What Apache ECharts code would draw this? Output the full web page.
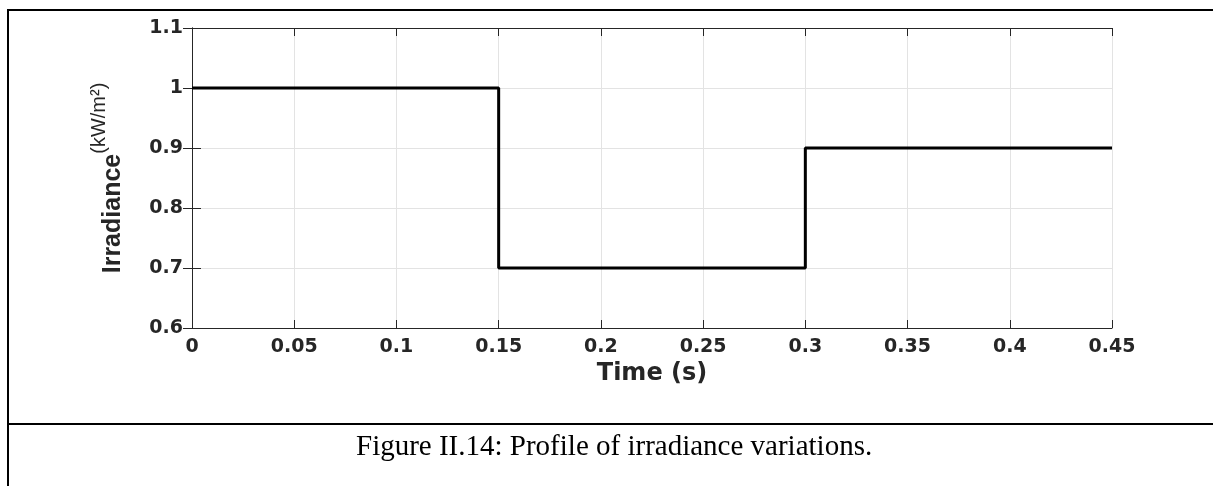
<!DOCTYPE html>
<html>
<head>
<meta charset="utf-8">
<script src="https://cdn.jsdelivr.net/npm/echarts@6/dist/echarts.min.js"></script>
<style>
  html, body { margin: 0; padding: 0; background: #fff; }
  #wrap { position: relative; width: 1213px; height: 486px; overflow: hidden; }
  #chart { position: absolute; left: 0; top: 0; width: 1213px; height: 486px; }
  /* table cell borders round the figure */
  .rule { position: absolute; background: #000; }
</style>
</head>
<body>
<div id="wrap">
  <div id="chart"></div>
  <div class="rule" style="left:7px; top:9px; width:1206px; height:2px;"></div>
  <div class="rule" style="left:7px; top:9px; width:2px; height:477px;"></div>
  <div class="rule" style="left:7px; top:423px; width:1206px; height:2px;"></div>
</div>
<script>
// step profile: value holds from each time until the next one
const timeS = [0, 0.15, 0.3, 0.45];
const irradiance = [1, 0.7, 0.9, 0.9];

const xTicks = { min: 0, max: 0.45, interval: 0.05 };
const yTicks = { min: 0.6, max: 1.1, interval: 0.1 };

const caption = "Figure II.14: Profile of irradiance variations.";

const TEXT = "#262626";
const GRID = "#e3e3e3";
const LABEL_FONT = "DejaVu Sans";

const chart = echarts.init(document.getElementById("chart"));

const boxAxis = (extra) => Object.assign({
  type: "value",
  axisLine: { show: true, lineStyle: { color: TEXT, width: 1 } },
  axisTick: { show: true, inside: true, length: 8, lineStyle: { color: TEXT, width: 1 } },
  axisLabel: { show: false },
  splitLine: { show: false },
}, extra);

const tickLabel = (margin) => ({
  show: true,
  margin: margin,
  color: TEXT,
  fontFamily: LABEL_FONT,
  fontWeight: "bold",
  fontSize: 19,
  showMinLabel: true,
  showMaxLabel: true,
});

chart.setOption({
  animation: false,
  backgroundColor: "#fff",
  title: {
    text: caption,
    left: 351,
    top: 428,
    textStyle: {
      fontFamily: "Liberation Serif",
      fontSize: 29,
      fontWeight: "normal",
      color: "#000",
    },
  },
  grid: { left: 192, top: 28, right: 101, bottom: 158, containLabel: false },
  xAxis: [
    boxAxis({
      position: "bottom",
      ...xTicks,
      name: "Time (s)",
      nameLocation: "middle",
      nameGap: 31,
      nameTextStyle: { fontFamily: LABEL_FONT, fontWeight: "bold", fontSize: 24, color: TEXT },
      axisLabel: tickLabel(10),
      splitLine: { show: true, lineStyle: { color: GRID, width: 1 } },
    }),
    boxAxis({ position: "top", ...xTicks }),
  ],
  yAxis: [
    boxAxis({
      position: "left",
      ...yTicks,
      axisTick: { show: true, inside: true, length: 9, lineStyle: { color: TEXT, width: 1 } },
      name: "{a|Irradiance}{b|(kW/m²)}",
      nameLocation: "middle",
      nameRotate: 90,
      nameGap: 66,
      nameTextStyle: {
        rich: {
          a: {
            fontFamily: "Liberation Sans",
            fontWeight: "bold",
            fontSize: 25,
            lineHeight: 25,
            color: TEXT,
            verticalAlign: "bottom",
          },
          b: {
            fontFamily: "Liberation Sans",
            fontSize: 20,
            color: TEXT,
            verticalAlign: "bottom",
            padding: [0, 0, 17, 0],
          },
        },
      },
      axisLabel: tickLabel(9),
      splitLine: { show: true, lineStyle: { color: GRID, width: 1 } },
    }),
    boxAxis({
      position: "right",
      ...yTicks,
      axisTick: { show: true, inside: true, length: 9, lineStyle: { color: TEXT, width: 1 } },
    }),
  ],
  series: [
    {
      type: "line",
      step: "end",
      xAxisIndex: 0,
      yAxisIndex: 0,
      data: timeS.map((t, i) => [t, irradiance[i]]),
      showSymbol: false,
      lineStyle: { color: "#000", width: 3 },
      clip: false,
    },
  ],
});
</script>
</body>
</html>
